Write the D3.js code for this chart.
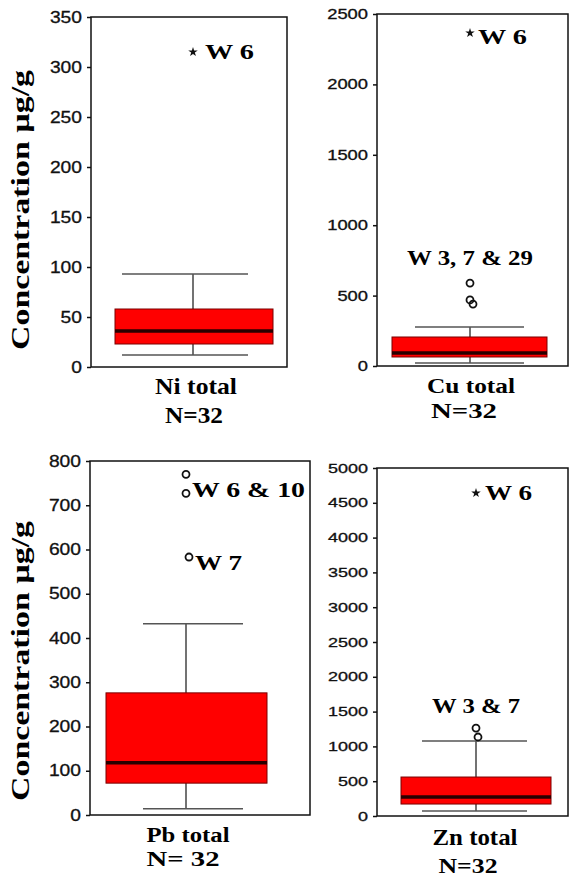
<!DOCTYPE html>
<html>
<head>
<meta charset="utf-8">
<script src="https://cdn.jsdelivr.net/npm/d3@7"></script>
<style>
  body { margin: 0; background: #fff; }
  svg { display: block; }
</style>
</head>
<body>
<div class="central"></div>
<script>
//Data (µg/g)
var metals = ["Ni total", "Cu total", "Pb total", "Zn total"];
var nLabels = ["N=32", "N=32", "N= 32", "N=32"];
var yMax = [350, 2500, 800, 5000];
var yStep = [50, 500, 100, 500];
var whiskerLow = [12, 21, 14, 72];
var q1 = [23, 64, 72, 172];
var median = [36, 92, 118, 273];
var q3 = [58, 206, 276, 560];
var whiskerHigh = [93, 277, 432, 1078];
var outliers = [[], [589, 469, 440], [770, 727, 583], [1264, 1135]];
var extremes = [[315], [2365], [], [4640]];
var notes = [["W 6"], ["W 6", "W 3, 7 & 29"], ["W 6 & 10", "W 7"], ["W 6", "W 3 & 7"]];

//Layout of the four panels (pixels)
var width = 569,
	height = 877;

//label / nLab = [x centre, baseline, length, font size]
var layout = [
	{x0: 91, x1: 287, y0: 17, y1: 367, box: [115, 273], capL: 71, capR: 55, cx: 193,
	 tickFont: 16, digitW: 10.7, title: 210,
	 label: [196, 394, 82, 24], nLab: [194, 423, 58, 24],
	 notes: [[205, 59, 49]]},
	{x0: 377, x1: 568, y0: 14, y1: 366, box: [392, 547], capL: 55, capR: 54, cx: 470,
	 tickFont: 14, digitW: 10.2, title: null,
	 label: [471, 393, 88, 22], nLab: [464, 418, 66, 22],
	 notes: [[478, 44, 49], [407, 265, 126]]},
	{x0: 90, x1: 310, y0: 461, y1: 815, box: [106, 267], capL: 43, capR: 57, cx: 186,
	 tickFont: 16, digitW: 10.7, title: 661,
	 label: [188, 842, 83, 20], nLab: [183, 866, 73, 20],
	 notes: [[192, 497, 113], [195, 570, 47]]},
	{x0: 377, x1: 568, y0: 468, y1: 816, box: [401, 551], capL: 54, capR: 51, cx: 476,
	 tickFont: 12.5, digitW: 10, title: null,
	 label: [475, 845, 85, 24], nLab: [468, 873, 59, 20],
	 notes: [[485, 500, 47], [432, 713, 88]]}
];

var svg = d3.select(".central")
			.append("svg")
			.attr("width", width)
			.attr("height", height);

var serif = "'Liberation Serif', 'Times New Roman', serif";
var sans = "'Liberation Sans', Arial, sans-serif";

metals.forEach(function(name, i){
	var L = layout[i];
	var g = svg.append("g");

	var y = d3.scaleLinear()
				.domain([0, yMax[i]])
				.range([L.y1, L.y0]);
	var x = d3.scaleBand()
				.domain([name])
				.range(L.box);
	var cx = L.cx;

	//Axis with ticks outside the frame
	var axis = g.append("g")
				.attr("transform", "translate(" + L.x0 + ",0)")
				.call(d3.axisLeft(y)
					.tickValues(d3.range(0, yMax[i] + 1, yStep[i]))
					.tickSize(4)
					.tickPadding(5)
					.tickFormat(d3.format("d")));
	axis.select(".domain").remove();
	axis.selectAll("line").attr("stroke", "#111").attr("stroke-width", 1.5);
	axis.selectAll("text")
		.style("font-family", sans)
		.style("font-size", L.tickFont + "px")
		.attr("fill", "#111")
		.attr("stroke", "#111")
		.attr("stroke-width", 0.3)
		.attr("textLength", function(d){ return String(d).length * L.digitW; })
		.attr("lengthAdjust", "spacingAndGlyphs");

	//Whiskers
	g.append("line")
		.attr("x1", cx).attr("x2", cx)
		.attr("y1", y(whiskerLow[i])).attr("y2", y(whiskerHigh[i]))
		.attr("stroke", "#444").attr("stroke-width", 1.5);
	[whiskerLow[i], whiskerHigh[i]].forEach(function(v){
		g.append("line")
			.attr("x1", cx - L.capL).attr("x2", cx + L.capR)
			.attr("y1", y(v)).attr("y2", y(v))
			.attr("stroke", "#555").attr("stroke-width", 1.5);
	});

	//Box and median
	g.append("rect")
		.attr("x", x(name))
		.attr("width", x.bandwidth())
		.attr("y", y(q3[i]))
		.attr("height", y(q1[i]) - y(q3[i]))
		.attr("fill", "#ff0000")
		.attr("stroke", "#7a0000")
		.attr("stroke-width", 1);
	g.append("line")
		.attr("x1", x(name)).attr("x2", x(name) + x.bandwidth())
		.attr("y1", y(median[i])).attr("y2", y(median[i]))
		.attr("stroke", "#2a0000").attr("stroke-width", 3.5);

	//Frame
	g.append("rect")
		.attr("x", L.x0).attr("y", L.y0)
		.attr("width", L.x1 - L.x0).attr("height", L.y1 - L.y0)
		.attr("fill", "none")
		.attr("stroke", "#111")
		.attr("stroke-width", 1.5);

	//Outliers (o) and extremes (*)
	g.selectAll(".out")
		.data(outliers[i])
		.enter()
		.append("circle")
		.attr("class", "out")
		.attr("cx", function(d, j){ return cx + (j == 2 ? 3 : (j == 1 && i == 3 ? 2 : 0)); })
		.attr("cy", function(d){ return y(d); })
		.attr("r", 3.5)
		.attr("fill", "none")
		.attr("stroke", "#111")
		.attr("stroke-width", 1.8);
	g.selectAll(".ext")
		.data(extremes[i])
		.enter()
		.append("path")
		.attr("class", "ext")
		.attr("d", d3.symbol(d3.symbolStar, 28))
		.attr("transform", function(d){ return "translate(" + cx + "," + y(d) + ")"; })
		.attr("fill", "#111");

	//Outlier notes
	notes[i].forEach(function(t, j){
		var p = L.notes[j];
		g.append("text")
			.attr("x", p[0]).attr("y", p[1])
			.attr("textLength", p[2])
			.attr("lengthAdjust", "spacingAndGlyphs")
			.style("font-family", serif)
			.style("font-weight", "bold")
			.style("font-size", "22px")
			.text(t);
	});

	//Category labels
	[[name, L.label], [nLabels[i], L.nLab]].forEach(function(lab){
		var p = lab[1];
		g.append("text")
			.attr("x", p[0]).attr("y", p[1])
			.attr("text-anchor", "middle")
			.attr("textLength", p[2])
			.attr("lengthAdjust", "spacingAndGlyphs")
			.style("font-family", serif)
			.style("font-weight", "bold")
			.style("font-size", p[3] + "px")
			.text(lab[0]);
	});

	//Y axis title on the left column only
	if(L.title !== null){
		g.append("text")
			.attr("transform", "translate(29," + L.title + ") rotate(-90)")
			.attr("text-anchor", "middle")
			.attr("textLength", 280)
			.attr("lengthAdjust", "spacingAndGlyphs")
			.style("font-family", serif)
			.style("font-weight", "bold")
			.style("font-size", "26px")
			.text("Concentration µg/g");
	}
});
</script>
</body>
</html>
